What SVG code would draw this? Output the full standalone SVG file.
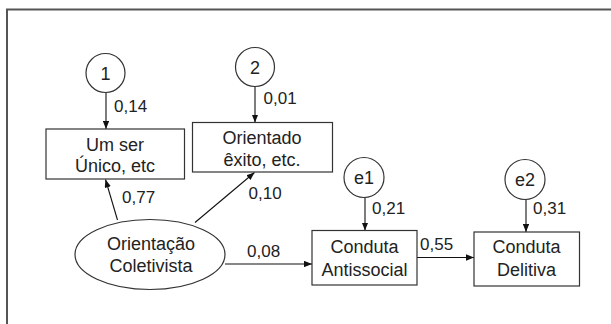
<svg xmlns="http://www.w3.org/2000/svg" width="611" height="324" viewBox="0 0 611 324">
<defs>
<style>
.frame{fill:none;stroke:#555;stroke-width:2}
.node{fill:#fff;stroke:#333;stroke-width:1.2}
.lbl{font-family:"Liberation Sans",Arial,sans-serif;font-size:18px;fill:#222;text-anchor:middle}
.num{font-family:"Liberation Sans",Arial,sans-serif;font-size:17px;fill:#222}
.edge{fill:none;stroke:#111;stroke-width:1.1;marker-end:url(#ah)}
</style>
<marker id="ah" viewBox="0 0 10 8" refX="10" refY="4" markerWidth="8" markerHeight="6.4" markerUnits="userSpaceOnUse" orient="auto">
<path d="M0,0 L10,4 L0,8 Z" fill="#111"/>
</marker>
</defs>
<rect width="611" height="324" fill="#fff"/>
<path class="frame" d="M7,330 V9.5 H620"/>
<g id="connectors">
<line class="edge" x1="106" y1="92.5" x2="106" y2="129"/>
<line class="edge" x1="255" y1="86.5" x2="255" y2="122.5"/>
<line class="edge" x1="365" y1="197.5" x2="365" y2="230.5"/>
<line class="edge" x1="526" y1="199.5" x2="526" y2="232"/>
<line class="edge" x1="117.5" y1="220" x2="105.5" y2="179.5"/>
<line class="edge" x1="195" y1="222.5" x2="254.5" y2="172.5"/>
<line class="edge" x1="225" y1="264" x2="312" y2="264"/>
<line class="edge" x1="417" y1="257.5" x2="474" y2="257.5"/>
</g>
<g id="err1"><circle class="node" cx="105.5" cy="73" r="19.5"/><text class="lbl" x="105.5" y="79.5">1</text></g>
<g id="err2"><circle class="node" cx="255" cy="67" r="19.5"/><text class="lbl" x="255" y="73.5">2</text></g>
<g id="e1"><circle class="node" cx="364" cy="177.5" r="20"/><text class="lbl" x="364" y="184">e1</text></g>
<g id="e2"><circle class="node" cx="525" cy="179.5" r="20"/><text class="lbl" x="525" y="186">e2</text></g>
<g id="umser"><rect class="node" x="46" y="129" width="138.5" height="50"/><text class="lbl" x="115" y="150.5">Um ser</text><text class="lbl" x="115" y="172">Único, etc</text></g>
<g id="orientado"><rect class="node" x="192.5" y="122.5" width="140" height="49.5"/><text class="lbl" x="262" y="143.5">Orientado</text><text class="lbl" x="262" y="165.5">êxito, etc.</text></g>
<g id="coletivista"><ellipse class="node" cx="150" cy="254.5" rx="75" ry="35"/><text class="lbl" x="151" y="250">Orientação</text><text class="lbl" x="151" y="271.5">Coletivista</text></g>
<g id="antissocial"><rect class="node" x="312" y="230.5" width="105" height="54.5"/><text class="lbl" x="364.5" y="253">Conduta</text><text class="lbl" x="364.5" y="275.5">Antissocial</text></g>
<g id="delitiva"><rect class="node" x="474" y="232" width="105.5" height="54"/><text class="lbl" x="526.5" y="253">Conduta</text><text class="lbl" x="526.5" y="275.5">Delitiva</text></g>
<g id="labels">
<text class="num" x="114" y="112">0,14</text>
<text class="num" x="263.5" y="103.5">0,01</text>
<text class="num" x="372" y="213.5">0,21</text>
<text class="num" x="533" y="214">0,31</text>
<text class="num" x="122" y="203">0,77</text>
<text class="num" x="248.5" y="198.5">0,10</text>
<text class="num" x="247" y="257">0,08</text>
<text class="num" x="420" y="250">0,55</text>
</g>
</svg>
